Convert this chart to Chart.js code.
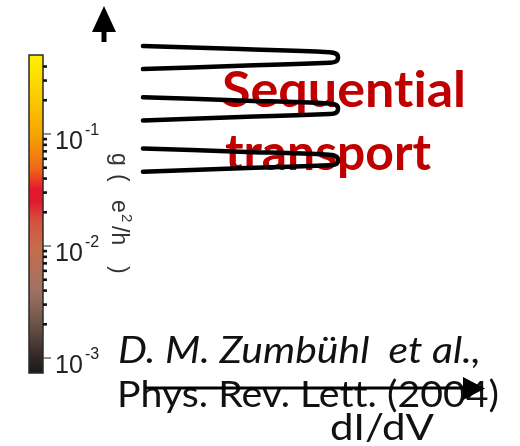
<!DOCTYPE html>
<html lang="en">
<head>
  <meta charset="UTF-8">
  <title>Sequential transport</title>
  <style>
    html, body { margin: 0; padding: 0; background: #fff; }
    canvas { display: block; }
  </style>
</head>
<body>
  <canvas id="chart" width="520" height="446"></canvas>

  <script src="https://cdn.jsdelivr.net/npm/chart.js"></script>

  <script>
    // hairpin traces (x = bias along dI/dV, y = gate level)
    const hairpinX = [0, 0.5, 0.955, 0.99, 1.0, 0.99, 0.955, 0.5, 0];
    const curve1Y = [6.375, 6.315, 6.255, 6.225, 6.15, 6.075, 6.05, 5.99, 5.925];
    const curve2Y = [5.375, 5.315, 5.255, 5.225, 5.15, 5.075, 5.05, 4.99, 4.925];
    const curve3Y = [4.375, 4.315, 4.255, 4.225, 4.15, 4.075, 4.05, 3.99, 3.925];

    // colour bar, g in e^2/h
    const cbarMin = 7.35e-4;
    const cbarMax = 0.507;
    const cbarMajor = [1e-1, 1e-2, 1e-3];
    const cbarMajorExp = ["-1", "-2", "-3"];
    const cbarMinor = [2e-3, 3e-3, 4e-3, 5e-3, 6e-3, 7e-3, 8e-3, 9e-3,
                       2e-2, 3e-2, 4e-2, 5e-2, 6e-2, 7e-2, 8e-2, 9e-2,
                       2e-1, 3e-1, 4e-1];
    const cbarColors = [
      [0.507, "#fff200"], [0.2, "#fbc800"], [0.1, "#f7a500"], [0.05, "#f06a18"],
      [0.032, "#e8182c"], [0.025, "#e01a30"], [0.017, "#d4503a"], [0.01, "#c86c4a"],
      [0.004, "#a07262"], [0.002, "#6a5448"], [0.001, "#302626"], [0.000735, "#1a1a1a"]
    ];

    function makeCurve(ys) {
      return {
        data: hairpinX.map((x, i) => ({ x: x, y: ys[i] })),
        showLine: true,
        borderColor: "#000",
        borderWidth: 4.5,
        borderCapStyle: "round",
        borderJoinStyle: "round",
        pointRadius: 0,
        tension: 0.4,
        clip: false
      };
    }

    // stretch a string so it spans left..right
    function fitText(ctx, str, left, right, base, font, color) {
      ctx.save();
      ctx.font = font;
      const w = ctx.measureText(str).width;
      ctx.translate(left, base);
      ctx.scale((right - left) / w, 1);
      ctx.fillStyle = color;
      ctx.textBaseline = "alphabetic";
      ctx.fillText(str, 0, 0);
      ctx.restore();
    }

    function drawArrowHead(ctx, tip, b1, b2) {
      ctx.beginPath();
      ctx.moveTo(tip[0], tip[1]);
      ctx.lineTo(b1[0], b1[1]);
      ctx.lineTo(b2[0], b2[1]);
      ctx.closePath();
      ctx.fill();
    }

    const decor = {
      id: "decor",
      beforeDatasetsDraw(chart) {
        const ctx = chart.ctx;
        const cb = chart.scales.cbar;
        const top = cb.getPixelForValue(cbarMax);
        const bottom = cb.getPixelForValue(cbarMin);
        const x0 = 29, x1 = 43;

        // colour bar
        const grad = ctx.createLinearGradient(0, top, 0, bottom);
        cbarColors.forEach(([v, c]) => {
          const f = (cb.getPixelForValue(v) - top) / (bottom - top);
          grad.addColorStop(Math.min(1, Math.max(0, f)), c);
        });
        ctx.save();
        ctx.fillStyle = grad;
        ctx.fillRect(x0, top, x1 - x0, bottom - top);
        ctx.strokeStyle = "#2a2a2a";
        ctx.lineWidth = 1.5;
        ctx.strokeRect(x0, top, x1 - x0, bottom - top);

        ctx.fillStyle = "#111";
        cbarMinor.forEach(v => {
          const y = cb.getPixelForValue(v);
          ctx.fillRect(x1, y - 1.3, 4, 2.6);
        });
        ctx.strokeStyle = "#444";
        ctx.lineWidth = 1.2;
        cbarMajor.forEach((v, i) => {
          const y = cb.getPixelForValue(v);
          ctx.beginPath();
          ctx.moveTo(x1, y);
          ctx.lineTo(x1 + 8, y);
          ctx.stroke();
          ctx.fillStyle = "#222";
          ctx.font = '25px "Liberation Sans"';
          ctx.fillText("10", 55, y + 15);
          ctx.font = '16px "Liberation Sans"';
          ctx.fillText(cbarMajorExp[i], 85, y + 1);
        });

        // colour bar label, rotated
        ctx.translate(112, 0);
        ctx.rotate(Math.PI / 2);
        ctx.fillStyle = "#333";
        ctx.font = '23px "Liberation Sans"';
        [["g", 153], ["(", 174], ["e", 200], ["/h", 226], [")", 266]].forEach(([s, y]) => {
          ctx.fillText(s, y, 0);
        });
        ctx.font = '15px "Liberation Sans"';
        ctx.fillText("2", 214, -10);
        ctx.restore();

        // annotations (ZWNJ keeps Lato from joining "ti")
        const red = "#c00000";
        fitText(ctx, "Sequent\u200Cial", 222, 466, 107, 'bold 49px Lato', red);
        fitText(ctx, "transport", 225, 431, 170, 'bold 49px Lato', red);
        fitText(ctx, "D. M. Zumbühl  et al.,", 118, 481, 363, 'italic 36px Lato', "#111");
        fitText(ctx, "Phys. Rev. Let\u200Ct. (2004)", 117, 499, 407, '36px Lato', "#111");
        fitText(ctx, "dI/dV", 330, 434, 440, '37px Lato', "#111");

        // axes arrows
        ctx.save();
        ctx.fillStyle = "#000";
        ctx.strokeStyle = "#000";
        ctx.lineWidth = 3;
        ctx.beginPath();
        ctx.moveTo(145, 388);
        ctx.lineTo(468, 388);
        ctx.stroke();
        drawArrowHead(ctx, [485, 388.5], [463, 377], [463, 400]);
        ctx.lineWidth = 5;
        ctx.beginPath();
        ctx.moveTo(104, 42);
        ctx.lineTo(104, 28);
        ctx.stroke();
        drawArrowHead(ctx, [104, 6], [92, 32], [116, 32]);
        ctx.restore();
      }
    };

    new Chart(document.getElementById("chart"), {
      type: "scatter",
      data: {
        datasets: [makeCurve(curve1Y), makeCurve(curve2Y), makeCurve(curve3Y)]
      },
      options: {
        responsive: false,
        animation: false,
        layout: { padding: { top: 55, bottom: 73, left: 0, right: 0 } },
        plugins: { legend: { display: false }, tooltip: { enabled: false } },
        scales: {
          x: { type: "linear", min: -0.733, max: 1.933, display: false },
          y: { type: "linear", min: 0, max: 6.2, display: false },
          cbar: { type: "logarithmic", axis: "y", position: "left", min: cbarMin, max: cbarMax, display: false }
        }
      },
      plugins: [decor]
    });
  </script>
</body>
</html>
